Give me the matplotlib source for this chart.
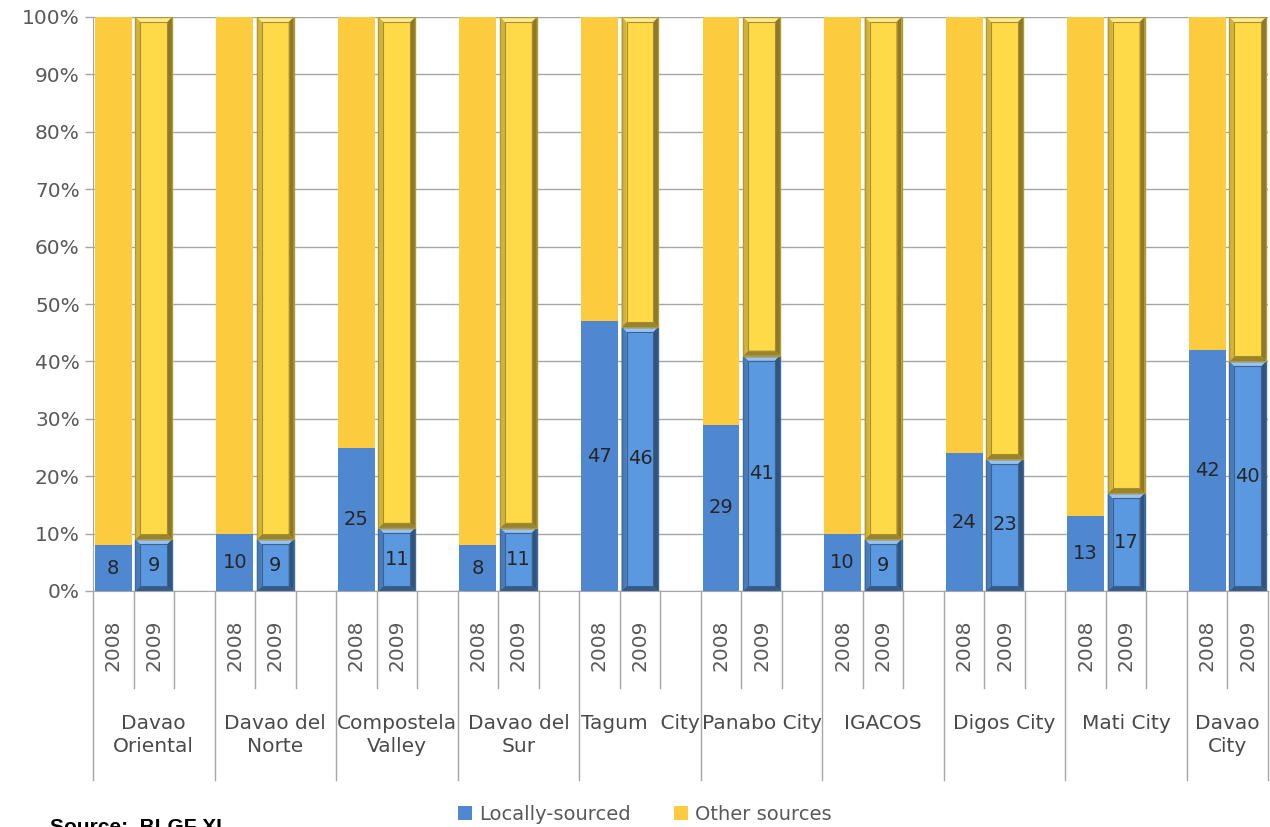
import matplotlib.pyplot as plt
import matplotlib.colors as mc
from matplotlib.patches import Rectangle, Polygon
from matplotlib.lines import Line2D
from matplotlib.ticker import FuncFormatter

plt.rcParams['font.family'] = ['DejaVu Sans']

# share of locally-sourced revenue (%), by LGU
lgus = ["Davao\nOriental", "Davao del\nNorte", "Compostela\nValley", "Davao del\nSur",
        "Tagum  City", "Panabo City", "IGACOS", "Digos City", "Mati City", "Davao\nCity"]
years = ["2008", "2009"]
local_2008 = [8, 10, 25, 8, 47, 29, 10, 24, 13, 42]
local_2009 = [9, 9, 11, 11, 46, 41, 9, 23, 17, 40]

blue08, yellow08 = "#4f88d0", "#fccc3e"
blue09, yellow09 = "#5a98e0", "#ffda48"
text_col = "#595959"
grid_col = "#a6a6a6"
fs = 14.5

fig = plt.figure(figsize=(12.7, 8.27), dpi=100)
W, H = 1270, 827
n_slots = 29  # 3 slots per group, last group has no trailing gap
ax = fig.add_axes([93 / W, 1 - 591 / H, 1175 / W, 574 / H])
ax.set_xlim(0, n_slots)
ax.set_ylim(0, 100)

bw = 0.91
px_x = n_slots / 1175   # one pixel in x data units
px_y = 100 / 574        # one pixel in y data units


def shade(c, f):
    r, g, b = mc.to_rgb(c)
    if f < 1:
        return (r * f, g * f, b * f)
    f = f - 1
    return (r + (1 - r) * f, g + (1 - g) * f, b + (1 - b) * f)


def bevel_bar(x0, y0, h, color):
    w = bw
    dx, dy = 5 * px_x, 5 * px_y
    x1, y1 = x0 + w, y0 + h
    ax.add_patch(Rectangle((x0, y0), w, h, facecolor=color, edgecolor="none", zorder=3))
    # bevel faces
    top = [(x0, y1), (x1, y1), (x1 - dx, y1 - dy), (x0 + dx, y1 - dy)]
    bot = [(x0, y0), (x1, y0), (x1 - dx, y0 + dy), (x0 + dx, y0 + dy)]
    left = [(x0, y0), (x0, y1), (x0 + dx, y1 - dy), (x0 + dx, y0 + dy)]
    right = [(x1, y0), (x1, y1), (x1 - dx, y1 - dy), (x1 - dx, y0 + dy)]
    ax.add_patch(Polygon(top, closed=True, facecolor=shade(color, 1.4), edgecolor="none", zorder=4))
    ax.add_patch(Polygon(bot, closed=True, facecolor=shade(color, 0.6), edgecolor="none", zorder=4))
    ax.add_patch(Polygon(left, closed=True, facecolor=shade(color, 0.82), edgecolor="none", zorder=4))
    ax.add_patch(Polygon(right, closed=True, facecolor=shade(color, 0.55), edgecolor="none", zorder=4))
    ax.add_patch(Rectangle((x0 + dx, y0 + dy), w - 2 * dx, h - 2 * dy, facecolor="none",
                           edgecolor=shade(color, 0.65), lw=0.8, zorder=5))
    ax.add_patch(Rectangle((x0, y0), w, h, facecolor="none", edgecolor=shade(color, 0.7),
                           lw=1.0, zorder=5))


for i in range(len(lgus)):
    s08 = i * 3
    s09 = i * 3 + 1
    # 2008: flat stacked bar
    ax.bar(s08 + 0.5, local_2008[i], width=bw, color=blue08, zorder=3)
    ax.bar(s08 + 0.5, 100 - local_2008[i], bottom=local_2008[i], width=bw, color=yellow08, zorder=3)
    # 2009: bevelled stacked bar
    x0 = s09 + 0.5 - bw / 2
    bevel_bar(x0, 0, local_2009[i], blue09)
    bevel_bar(x0, local_2009[i], 100 - local_2009[i], yellow09)
    for s, v in ((s08, local_2008[i]), (s09, local_2009[i])):
        ax.text(s + 0.5, v / 2, str(v), ha="center", va="center", fontsize=14,
                color="#262626", zorder=6)

# axes styling
ax.set_yticks(range(0, 101, 10))
ax.yaxis.set_major_formatter(FuncFormatter(lambda v, _: f"{v:.0f}%"))
ax.tick_params(axis="y", labelsize=fs, labelcolor=text_col, color=grid_col, length=6, width=1)
ax.set_xticks([])
ax.grid(axis="y", color=grid_col, lw=1, zorder=0)
ax.set_axisbelow(True)
for side in ("top", "right"):
    ax.spines[side].set_visible(False)
ax.spines["left"].set_color(grid_col)
ax.spines["bottom"].set_color(grid_col)

# two-level category axis
tr = ax.get_xaxis_transform()
y_year = -(688 - 591) / 574
y_group = -(780 - 591) / 574
n = len(lgus)
for i in range(n):
    s = i * 3
    last = i == n - 1
    ax.add_line(Line2D([s, s], [0, y_group], transform=tr, color=grid_col, lw=1, clip_on=False))
    ax.add_line(Line2D([s + 1, s + 1], [0, y_year], transform=tr, color=grid_col, lw=1,
                       clip_on=False))
    if last:
        ax.add_line(Line2D([s + 2, s + 2], [0, y_group], transform=tr, color=grid_col, lw=1,
                           clip_on=False))
    else:
        ax.add_line(Line2D([s + 2, s + 2], [0, y_year], transform=tr, color=grid_col, lw=1,
                           clip_on=False))
    for k, yr in enumerate(years):
        ax.text(s + k + 0.5, -(645 - 591) / 574, yr, transform=tr, rotation=90, ha="center",
                va="center", fontsize=fs, color=text_col)
    cx = s + 1.0 if last else s + 1.5
    ax.text(cx, -(714 - 591) / 574, lgus[i], transform=tr, ha="center", va="top",
            fontsize=fs, color="#4a4a4a", linespacing=1.3)

handles = [Rectangle((0, 0), 1, 1, facecolor=blue08), Rectangle((0, 0), 1, 1, facecolor=yellow08)]
fig.legend(handles, ["Locally-sourced", "Other sources"], loc="center",
           bbox_to_anchor=(645 / W, 1 - 814 / H), ncol=2, frameon=False, fontsize=14,
           labelcolor=text_col, handlelength=0.7, handleheight=0.7, handletextpad=0.4,
           columnspacing=2.2)

fig.text(50 / W, 1 - 818 / H, "Source:  BLGF XI", ha="left", va="top", fontsize=15,
         fontweight="bold", family=["Liberation Sans", "DejaVu Sans"], color="black")

fig.savefig("out.png", dpi=100)
